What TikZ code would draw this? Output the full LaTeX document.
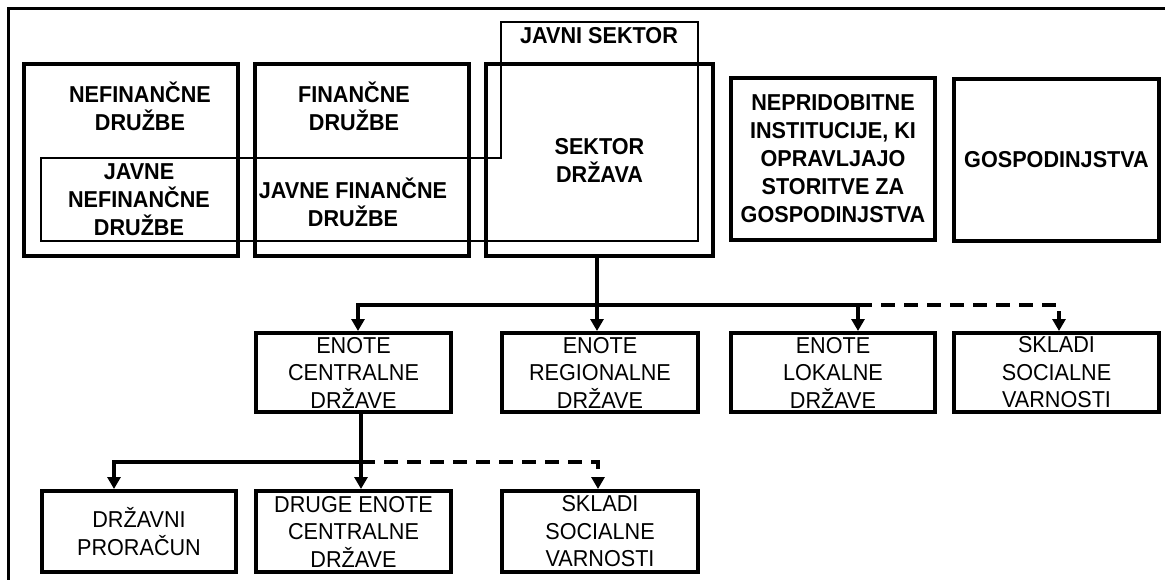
\documentclass[tikz,border=0pt]{standalone}
\usepackage{fontspec}
\setmainfont{Liberation Sans}[FakeStretch=0.94]
\usetikzlibrary{arrows.meta,calc}
\begin{document}
\begin{tikzpicture}[x=1pt,y=-1pt,
  txt/.style={align=center,font=\fontsize{23}{27.5}\selectfont,inner sep=0pt},
  btxt/.style={txt,font=\fontsize{23}{28}\selectfont\bfseries},
  bigbox/.style={draw,line width=4pt,inner sep=0pt},
  smallbox/.style={draw,line width=4pt,inner sep=0pt,minimum height=80pt},
  thinline/.style={line width=2.5pt},
  frameline/.style={line width=3pt},
  conn/.style={line width=3.3pt,-{Triangle[width=13pt,length=12pt]}},
  dashline/.style={dash pattern=on 14pt off 9pt}
]
\useasboundingbox (0,0) rectangle (1165,580);
\fill[white] (0,0) rectangle (1165,580);
% outer frame (cropped)
\draw[frameline] (8.5,580) -- (8.5,8.5) -- (1165,8.5);

% top row boxes
\node[bigbox,minimum width=214pt,minimum height=192pt] (nef) at (131,160) {};
\node[bigbox,minimum width=214pt,minimum height=192pt] (fin) at (362,160) {};
\node[bigbox,minimum width=227pt,minimum height=192pt,btxt] (sek) at (599.5,160) {SEKTOR\\DRŽAVA};
\node[bigbox,minimum width=204pt,minimum height=162pt,btxt] (nep) at (833,159) {NEPRIDOBITNE\\INSTITUCIJE, KI\\OPRAVLJAJO\\STORITVE ZA\\GOSPODINJSTVA};
\node[bigbox,minimum width=205pt,minimum height=162pt,btxt] (gos) at (1056.5,160) {GOSPODINJSTVA};

% public sector outline
\draw[thinline] (501,22) -- (698,22) -- (698,241) -- (41,241) -- (41,158) -- (501,158) -- cycle;

% labels
\node[btxt] (javni) at (599,36) {JAVNI SEKTOR};
\node[btxt] (neflab) at (140,106) {NEFINANČNE\\DRUŽBE};
\node[btxt] (finlab) at (354,106) {FINANČNE\\DRUŽBE};
\node[btxt] (jnef) at (139,200) {JAVNE\\NEFINANČNE\\DRUŽBE};
\node[btxt] (jfin) at (353,202) {JAVNE FINANČNE\\DRUŽBE};

% second row
\node[smallbox,minimum width=195pt,minimum height=79pt,txt] (cen) at (353.5,372.5) {ENOTE\\CENTRALNE\\DRŽAVE};
\node[smallbox,minimum width=196pt,minimum height=79pt,txt] (reg) at (600,372.5) {ENOTE\\REGIONALNE\\DRŽAVE};
\node[smallbox,minimum width=204pt,minimum height=79pt,txt] (lok) at (833,372.5) {ENOTE\\LOKALNE\\DRŽAVE};
\node[smallbox,minimum width=205pt,minimum height=79pt,txt] (skl) at (1056.5,372.5) {SKLADI\\SOCIALNE\\VARNOSTI};

% third row
\node[smallbox,minimum width=194pt,minimum height=81pt,txt] (drz) at (139,531.5) {DRŽAVNI\\PRORAČUN};
\node[smallbox,minimum width=195pt,minimum height=81pt,txt] (dru) at (353.5,531.5) {DRUGE ENOTE\\CENTRALNE\\DRŽAVE};
\node[smallbox,minimum width=196pt,minimum height=81pt,txt] (sk3) at (600,531.5) {SKLADI\\SOCIALNE\\VARNOSTI};

% connectors row 1 -> row 2
\coordinate (jr) at (597,305);
\coordinate (jc) at (358,305);
\coordinate (jl) at (858,305);
\coordinate (js) at (1059,305);
\draw[conn] (jr |- sek.south) -- (jr |- reg.north);
\draw[conn] (jl) -- (jc) -- (jc |- cen.north);
\draw[conn] (jl) -- (jl |- lok.north);
\draw[conn,dashline] (jl) -- (js) -- (js |- skl.north);

% connectors row 2 -> row 3
\coordinate (kc) at (361,462);
\coordinate (kd) at (114,462);
\coordinate (ks) at (598,462);
\draw[conn] (kc |- cen.south) -- (kc |- dru.north);
\draw[conn] (kc) -- (kd) -- (kd |- drz.north);
\draw[conn,dashline] (kc) -- (ks) -- (ks |- sk3.north);
\end{tikzpicture}
\end{document}
